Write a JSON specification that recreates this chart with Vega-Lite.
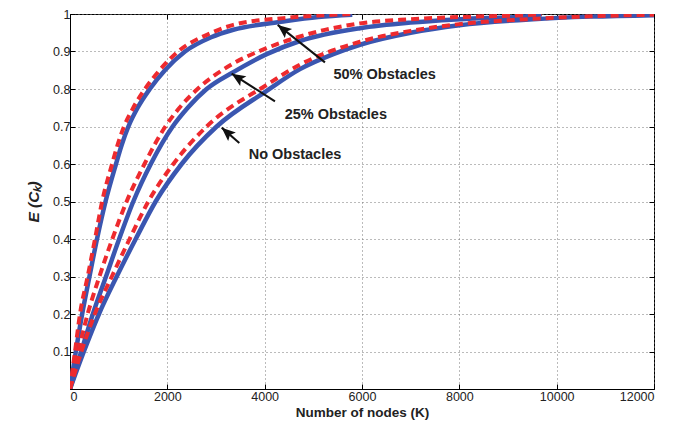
{
  "$schema": "https://vega.github.io/schema/vega-lite/v6.json",
  "width": 584,
  "height": 375,
  "autosize": "none",
  "padding": {"left": 70, "top": 14, "right": 31, "bottom": 44},
  "background": "white",
  "config": {
    "view": {"stroke": "#000", "strokeWidth": 1},
    "axis": {
      "labelFont": "Liberation Sans",
      "labelFontSize": 12.5,
      "labelColor": "#222",
      "titleFont": "Liberation Sans",
      "titleFontSize": 13.5,
      "titleFontWeight": "bold",
      "titleColor": "#222",
      "domainColor": "#000",
      "tickColor": "#000",
      "tickSize": -5,
      "gridColor": "#777",
      "gridDash": [1, 3],
      "gridOpacity": 1,
      "gridWidth": 1
    }
  },
  "datasets": {
    "curves": [
      {"curve": "50%", "kind": "sim", "K": 0, "E": 0},
      {"curve": "50%", "kind": "sim", "K": 120, "E": 0.1},
      {"curve": "50%", "kind": "sim", "K": 250, "E": 0.2},
      {"curve": "50%", "kind": "sim", "K": 400, "E": 0.3},
      {"curve": "50%", "kind": "sim", "K": 555, "E": 0.4},
      {"curve": "50%", "kind": "sim", "K": 730, "E": 0.5},
      {"curve": "50%", "kind": "sim", "K": 945, "E": 0.6},
      {"curve": "50%", "kind": "sim", "K": 1060, "E": 0.65},
      {"curve": "50%", "kind": "sim", "K": 1200, "E": 0.7},
      {"curve": "50%", "kind": "sim", "K": 1390, "E": 0.75},
      {"curve": "50%", "kind": "sim", "K": 1640, "E": 0.8},
      {"curve": "50%", "kind": "sim", "K": 1950, "E": 0.85},
      {"curve": "50%", "kind": "sim", "K": 2363, "E": 0.9},
      {"curve": "50%", "kind": "sim", "K": 2900, "E": 0.938},
      {"curve": "50%", "kind": "sim", "K": 3356, "E": 0.958},
      {"curve": "50%", "kind": "sim", "K": 4383, "E": 0.98},
      {"curve": "50%", "kind": "sim", "K": 5100, "E": 0.992},
      {"curve": "50%", "kind": "sim", "K": 5800, "E": 0.998},
      {"curve": "50%", "kind": "ana", "K": 0, "E": 0},
      {"curve": "50%", "kind": "ana", "K": 103, "E": 0.1},
      {"curve": "50%", "kind": "ana", "K": 205, "E": 0.2},
      {"curve": "50%", "kind": "ana", "K": 363, "E": 0.3},
      {"curve": "50%", "kind": "ana", "K": 514, "E": 0.4},
      {"curve": "50%", "kind": "ana", "K": 660, "E": 0.5},
      {"curve": "50%", "kind": "ana", "K": 865, "E": 0.6},
      {"curve": "50%", "kind": "ana", "K": 975, "E": 0.65},
      {"curve": "50%", "kind": "ana", "K": 1110, "E": 0.7},
      {"curve": "50%", "kind": "ana", "K": 1300, "E": 0.75},
      {"curve": "50%", "kind": "ana", "K": 1540, "E": 0.8},
      {"curve": "50%", "kind": "ana", "K": 1840, "E": 0.85},
      {"curve": "50%", "kind": "ana", "K": 2220, "E": 0.9},
      {"curve": "50%", "kind": "ana", "K": 2911, "E": 0.95},
      {"curve": "50%", "kind": "ana", "K": 3356, "E": 0.971},
      {"curve": "50%", "kind": "ana", "K": 4383, "E": 0.989},
      {"curve": "50%", "kind": "ana", "K": 5100, "E": 0.996},
      {"curve": "50%", "kind": "ana", "K": 5815, "E": 1.0},
      {"curve": "25%", "kind": "sim", "K": 0, "E": 0},
      {"curve": "25%", "kind": "sim", "K": 230, "E": 0.1},
      {"curve": "25%", "kind": "sim", "K": 470, "E": 0.2},
      {"curve": "25%", "kind": "sim", "K": 740, "E": 0.3},
      {"curve": "25%", "kind": "sim", "K": 1010, "E": 0.4},
      {"curve": "25%", "kind": "sim", "K": 1301, "E": 0.5},
      {"curve": "25%", "kind": "sim", "K": 1660, "E": 0.6},
      {"curve": "25%", "kind": "sim", "K": 2110, "E": 0.7},
      {"curve": "25%", "kind": "sim", "K": 2420, "E": 0.75},
      {"curve": "25%", "kind": "sim", "K": 2808, "E": 0.8},
      {"curve": "25%", "kind": "sim", "K": 3356, "E": 0.845},
      {"curve": "25%", "kind": "sim", "K": 4041, "E": 0.893},
      {"curve": "25%", "kind": "sim", "K": 4726, "E": 0.928},
      {"curve": "25%", "kind": "sim", "K": 5959, "E": 0.962},
      {"curve": "25%", "kind": "sim", "K": 7000, "E": 0.977},
      {"curve": "25%", "kind": "sim", "K": 8013, "E": 0.986},
      {"curve": "25%", "kind": "sim", "K": 9514, "E": 0.995},
      {"curve": "25%", "kind": "sim", "K": 9690, "E": 0.999},
      {"curve": "25%", "kind": "ana", "K": 0, "E": 0},
      {"curve": "25%", "kind": "ana", "K": 171, "E": 0.1},
      {"curve": "25%", "kind": "ana", "K": 363, "E": 0.2},
      {"curve": "25%", "kind": "ana", "K": 605, "E": 0.3},
      {"curve": "25%", "kind": "ana", "K": 870, "E": 0.4},
      {"curve": "25%", "kind": "ana", "K": 1164, "E": 0.5},
      {"curve": "25%", "kind": "ana", "K": 1530, "E": 0.6},
      {"curve": "25%", "kind": "ana", "K": 1960, "E": 0.7},
      {"curve": "25%", "kind": "ana", "K": 2250, "E": 0.75},
      {"curve": "25%", "kind": "ana", "K": 2620, "E": 0.8},
      {"curve": "25%", "kind": "ana", "K": 3356, "E": 0.868},
      {"curve": "25%", "kind": "ana", "K": 4041, "E": 0.909},
      {"curve": "25%", "kind": "ana", "K": 4726, "E": 0.94},
      {"curve": "25%", "kind": "ana", "K": 5959, "E": 0.975},
      {"curve": "25%", "kind": "ana", "K": 7000, "E": 0.986},
      {"curve": "25%", "kind": "ana", "K": 8013, "E": 0.992},
      {"curve": "25%", "kind": "ana", "K": 9514, "E": 0.998},
      {"curve": "25%", "kind": "ana", "K": 9690, "E": 1.0},
      {"curve": "0%", "kind": "sim", "K": 0, "E": 0},
      {"curve": "0%", "kind": "sim", "K": 285, "E": 0.1},
      {"curve": "0%", "kind": "sim", "K": 595, "E": 0.2},
      {"curve": "0%", "kind": "sim", "K": 960, "E": 0.3},
      {"curve": "0%", "kind": "sim", "K": 1350, "E": 0.4},
      {"curve": "0%", "kind": "sim", "K": 1760, "E": 0.5},
      {"curve": "0%", "kind": "sim", "K": 2294, "E": 0.6},
      {"curve": "0%", "kind": "sim", "K": 3014, "E": 0.7},
      {"curve": "0%", "kind": "sim", "K": 4041, "E": 0.795},
      {"curve": "0%", "kind": "sim", "K": 4726, "E": 0.853},
      {"curve": "0%", "kind": "sim", "K": 5411, "E": 0.893},
      {"curve": "0%", "kind": "sim", "K": 5959, "E": 0.918},
      {"curve": "0%", "kind": "sim", "K": 7000, "E": 0.95},
      {"curve": "0%", "kind": "sim", "K": 8000, "E": 0.97},
      {"curve": "0%", "kind": "sim", "K": 9514, "E": 0.986},
      {"curve": "0%", "kind": "sim", "K": 10700, "E": 0.993},
      {"curve": "0%", "kind": "sim", "K": 12000, "E": 0.997},
      {"curve": "0%", "kind": "ana", "K": 0, "E": 0},
      {"curve": "0%", "kind": "ana", "K": 235, "E": 0.1},
      {"curve": "0%", "kind": "ana", "K": 510, "E": 0.2},
      {"curve": "0%", "kind": "ana", "K": 860, "E": 0.3},
      {"curve": "0%", "kind": "ana", "K": 1225, "E": 0.4},
      {"curve": "0%", "kind": "ana", "K": 1610, "E": 0.5},
      {"curve": "0%", "kind": "ana", "K": 2123, "E": 0.6},
      {"curve": "0%", "kind": "ana", "K": 2808, "E": 0.7},
      {"curve": "0%", "kind": "ana", "K": 4041, "E": 0.811},
      {"curve": "0%", "kind": "ana", "K": 4726, "E": 0.865},
      {"curve": "0%", "kind": "ana", "K": 5959, "E": 0.926},
      {"curve": "0%", "kind": "ana", "K": 7000, "E": 0.955},
      {"curve": "0%", "kind": "ana", "K": 8000, "E": 0.973},
      {"curve": "0%", "kind": "ana", "K": 9514, "E": 0.987},
      {"curve": "0%", "kind": "ana", "K": 10700, "E": 0.994},
      {"curve": "0%", "kind": "ana", "K": 12000, "E": 0.998}
    ],
    "arrows": [
      {"label": "50% Obstacles", "tailK": 5239, "tailE": 0.871, "headK": 4268, "headE": 0.971, "textK": 6466, "textE": 0.838},
      {"label": "25% Obstacles", "tailK": 4212, "tailE": 0.767, "headK": 3322, "headE": 0.841, "textK": 5462, "textE": 0.731},
      {"label": "No Obstacles", "tailK": 3479, "tailE": 0.656, "headK": 3117, "headE": 0.697, "textK": 4623, "textE": 0.623}
    ]
  },
  "resolve": {"axis": {"x": "independent", "y": "independent"}},
  "layer": [
    {
      "layer": [
        {
          "data": {"name": "curves"},
          "transform": [{"filter": "datum.kind === 'sim'"}],
          "mark": {"type": "line", "color": "#3a56b0", "strokeWidth": 4.5, "interpolate": "monotone", "clip": true},
          "encoding": {
            "x": {"field": "K", "type": "quantitative", "scale": {"domain": [0, 12000], "nice": false}, "axis": {"values": [0, 2000, 4000, 6000, 8000, 10000, 12000], "format": "d", "title": "Number of nodes (K)", "labelPadding": 6, "titlePadding": 3, "grid": true}},
            "y": {"field": "E", "type": "quantitative", "scale": {"domain": [0, 1], "nice": false}, "axis": {"values": [0.1, 0.2, 0.3, 0.4, 0.5, 0.6, 0.7, 0.8, 0.9, 1], "format": ".1~f", "title": "E (Cₖ)", "titleFontStyle": "italic", "titleFontSize": 15.5, "labelPadding": 5, "titlePadding": 11, "grid": true}},
            "detail": {"field": "curve"}
          }
        },
        {
          "data": {"name": "curves"},
          "transform": [{"filter": "datum.kind === 'ana'"}],
          "mark": {"type": "line", "color": "#ee2a2e", "strokeWidth": 4, "strokeDash": [8, 5], "interpolate": "monotone", "clip": true},
          "encoding": {
            "x": {"field": "K", "type": "quantitative"},
            "y": {"field": "E", "type": "quantitative"},
            "detail": {"field": "curve"}
          }
        },
        {
          "data": {"name": "arrows"},
          "mark": {"type": "rule", "color": "#111", "strokeWidth": 2},
          "encoding": {
            "x": {"field": "tailK", "type": "quantitative"},
            "y": {"field": "tailE", "type": "quantitative"},
            "x2": {"field": "headK"},
            "y2": {"field": "headE"}
          }
        },
        {
          "data": {"name": "arrows"},
          "transform": [{"filter": "datum.label === '50% Obstacles'"}],
          "mark": {"type": "point", "shape": "M0,0L0.42,1L0,0.8L-0.42,1Z", "filled": true, "color": "#111", "opacity": 1, "size": 760, "angle": 308.5},
          "encoding": {
            "x": {"field": "headK", "type": "quantitative"},
            "y": {"field": "headE", "type": "quantitative"}
          }
        },
        {
          "data": {"name": "arrows"},
          "transform": [{"filter": "datum.label === '25% Obstacles'"}],
          "mark": {"type": "point", "shape": "M0,0L0.42,1L0,0.8L-0.42,1Z", "filled": true, "color": "#111", "opacity": 1, "size": 760, "angle": 302.6},
          "encoding": {
            "x": {"field": "headK", "type": "quantitative"},
            "y": {"field": "headE", "type": "quantitative"}
          }
        },
        {
          "data": {"name": "arrows"},
          "transform": [{"filter": "datum.label === 'No Obstacles'"}],
          "mark": {"type": "point", "shape": "M0,0L0.42,1L0,0.8L-0.42,1Z", "filled": true, "color": "#111", "opacity": 1, "size": 760, "angle": 311.6},
          "encoding": {
            "x": {"field": "headK", "type": "quantitative"},
            "y": {"field": "headE", "type": "quantitative"}
          }
        },
        {
          "data": {"name": "arrows"},
          "mark": {"type": "text", "font": "Liberation Sans", "fontWeight": "bold", "fontSize": 14.5, "color": "#222", "align": "center", "baseline": "middle"},
          "encoding": {
            "x": {"field": "textK", "type": "quantitative"},
            "y": {"field": "textE", "type": "quantitative"},
            "text": {"field": "label"}
          }
        }
      ]
    },
    {
      "data": {"name": "curves"},
      "mark": {"type": "line", "opacity": 0},
      "encoding": {
        "x": {"field": "K", "type": "quantitative", "axis": {"orient": "top", "labels": false, "title": null, "grid": false, "domain": false, "values": [0, 2000, 4000, 6000, 8000, 10000, 12000]}},
        "y": {"field": "E", "type": "quantitative", "axis": {"orient": "right", "labels": false, "title": null, "grid": false, "domain": false, "values": [0.1, 0.2, 0.3, 0.4, 0.5, 0.6, 0.7, 0.8, 0.9, 1]}},
        "detail": {"field": "curve"}
      }
    }
  ]
}
